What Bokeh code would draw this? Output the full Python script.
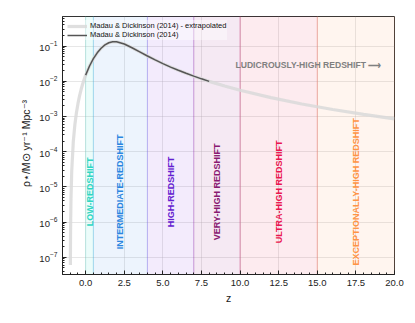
import math
from bokeh.plotting import figure
from bokeh.models import (ColumnDataSource, Legend, LegendItem, SingleIntervalTicker,
                          PrintfTickFormatter, FixedTicker, LogTickFormatter, Range1d)
from bokeh.core.properties import value
from bokeh.embed import file_html
from bokeh.resources import INLINE

# ---- data ----
z_extrap = [-0.99, -0.98, -0.97, -0.95, -0.9, -0.8, -0.7, -0.6, -0.5, -0.4, -0.3, -0.2, -0.1,
            0.0, 0.25, 0.5, 0.75, 1.0, 1.25, 1.5, 1.75, 2.0, 2.5, 3.0, 3.5, 4.0, 4.5, 5.0,
            5.5, 6.0, 6.5, 7.0, 7.5, 8.0, 9.0, 10.0, 12.0, 14.0, 16.0, 18.0, 20.0]
sfrd_extrap = [6.0e-8, 3.9e-7, 1.16e-6, 4.6e-6, 3.0e-5, 1.95e-4, 5.8e-4, 1.26e-3, 2.31e-3,
               3.78e-3, 5.73e-3, 8.2e-3, 1.126e-2,
               0.01496, 0.02715, 0.04375, 0.0642, 0.0867, 0.1079, 0.1240, 0.1321, 0.1319,
               0.1143, 0.0897, 0.0685, 0.0523, 0.0404, 0.03174, 0.02531, 0.02049, 0.01682,
               0.01397, 0.01172, 0.00994, 0.00733, 0.005562, 0.003427, 0.002263, 0.001574,
               0.001141, 0.000854]
z_md14 = [0.0, 0.25, 0.5, 0.75, 1.0, 1.25, 1.5, 1.75, 2.0, 2.5, 3.0, 3.5, 4.0, 4.5, 5.0,
          5.5, 6.0, 6.5, 7.0, 7.5, 8.0]
sfrd_md14 = [0.01496, 0.02715, 0.04375, 0.0642, 0.0867, 0.1079, 0.1240, 0.1321, 0.1319,
             0.1143, 0.0897, 0.0685, 0.0523, 0.0404, 0.03174, 0.02531, 0.02049, 0.01682,
             0.01397, 0.01172, 0.00994]

band_left = [0.0, 0.5, 4.0, 7.0, 10.0, 15.0]
band_right = [0.5, 4.0, 7.0, 10.0, 15.0, 20.0]
band_names = ["LOW-REDSHIFT", "INTERMEDIATE-REDSHIFT", "HIGH-REDSHIFT",
              "VERY-HIGH REDSHIFT", "ULTRA-HIGH REDSHIFT", "EXCEPTIONALLY-HIGH REDSHIFT"]
band_fill = ["#40e0d0", "#4a94ea", "#8a3ee0", "#9a2a8a", "#f03a60", "#ff9a66"]
band_text = ["#2fd6c2", "#2a86e0", "#6420d0", "#8a1a72", "#ea1550", "#ff9445"]
label_level = 7.2e-6

ludicrous_label = "LUDICROUSLY-HIGH REDSHIFT ⟶"
ludicrous_z = 9.7
ludicrous_level = 0.0283

x_ticks_interval = 2.5
y_decades = [1e-7, 1e-6, 1e-5, 1e-4, 1e-3, 1e-2, 1e-1]

FONT = "Liberation Sans"

p = figure(width=407, height=315, output_backend="svg", toolbar_location=None,
           y_axis_type="log", x_range=Range1d(-1.5, 20.0),
           y_range=Range1d(10 ** -7.49, 10 ** -0.16),
           min_border_left=62, min_border_right=13, min_border_top=16, min_border_bottom=41)
p.background_fill_color = "white"
p.border_fill_color = "white"
p.outline_line_color = "#333333"
p.outline_line_width = 1

# bands
bsrc = ColumnDataSource(dict(left=band_left, right=band_right, fill=band_fill))
p.quad(left="left", right="right", bottom=1e-9, top=10.0, source=bsrc,
       fill_color="fill", fill_alpha=0.1, line_color="fill", line_alpha=0.25, line_width=1)

# curves
l1 = p.line(z_extrap, sfrd_extrap, line_color="#d9d9d9", line_width=3.2, line_alpha=0.85)
l2 = p.line(z_md14, sfrd_md14, line_color="#555555", line_width=1.5)

# band labels
centers = [(a + b) / 2 for a, b in zip(band_left, band_right)]
tsrc = ColumnDataSource(dict(x=centers, y=[label_level] * len(centers), t=band_names, c=band_text))
p.text(x="x", y="y", text="t", source=tsrc, text_color="c", angle=math.pi / 2,
       text_align="center", text_baseline="middle", text_font=value(FONT),
       text_font_style="bold", text_font_size="9px")

p.text(x=[ludicrous_z], y=[ludicrous_level], text=[ludicrous_label], text_color="#808080",
       text_align="left", text_baseline="middle", text_font=value(FONT),
       text_font_style="bold", text_font_size="8.6px")

# axes
xa = p.xaxis[0]
xa.ticker = SingleIntervalTicker(interval=x_ticks_interval, num_minor_ticks=5)
xa.formatter = PrintfTickFormatter(format="%.1f")
ya = p.yaxis[0]
minor = [m * d / 10 for d in y_decades + [1.0] for m in range(2, 10)]
ya.ticker = FixedTicker(ticks=y_decades, minor_ticks=minor)
ya.formatter = LogTickFormatter()
for ax in (xa, ya):
    ax.major_tick_in = 4
    ax.major_tick_out = 0
    ax.minor_tick_in = 2
    ax.minor_tick_out = 0
    ax.axis_line_color = "#222222"
    ax.major_tick_line_color = "#222222"
    ax.minor_tick_line_color = "#222222"
    ax.major_label_text_font = FONT
    ax.major_label_text_font_size = "9.5px"
    ax.major_label_text_color = "#222222"
    ax.axis_label_text_font = FONT
    ax.axis_label_text_font_style = "normal"
    ax.axis_label_text_color = "#222222"
xa.axis_label = "z"
xa.axis_label_text_font_size = "10.5px"
xa.axis_label_standoff = 3
xa.major_label_standoff = 5
ya.axis_label = "ρ⋆/M⊙ yr⁻¹ Mpc⁻³"
ya.axis_label_text_font_size = "10.5px"
ya.axis_label_standoff = 4
ya.major_label_standoff = 5

p.xgrid.grid_line_color = "#b0b0b0"
p.xgrid.grid_line_alpha = 0.3
p.ygrid.grid_line_color = "#b0b0b0"
p.ygrid.grid_line_alpha = 0.3

legend = Legend(items=[LegendItem(label="Madau & Dickinson (2014) - extrapolated", renderers=[l1]),
                       LegendItem(label="Madau & Dickinson (2014)", renderers=[l2])],
                location="top_left", margin=4, padding=1, spacing=-3,
                label_text_font=FONT, label_text_font_size="7.5px", label_text_color="#111111",
                label_height=6, glyph_height=6, glyph_width=20, label_standoff=3,
                label_text_line_height=0.8,
                background_fill_alpha=0.4, border_line_alpha=0)
p.add_layout(legend)

open("out.html", "w").write(file_html(p, INLINE))
